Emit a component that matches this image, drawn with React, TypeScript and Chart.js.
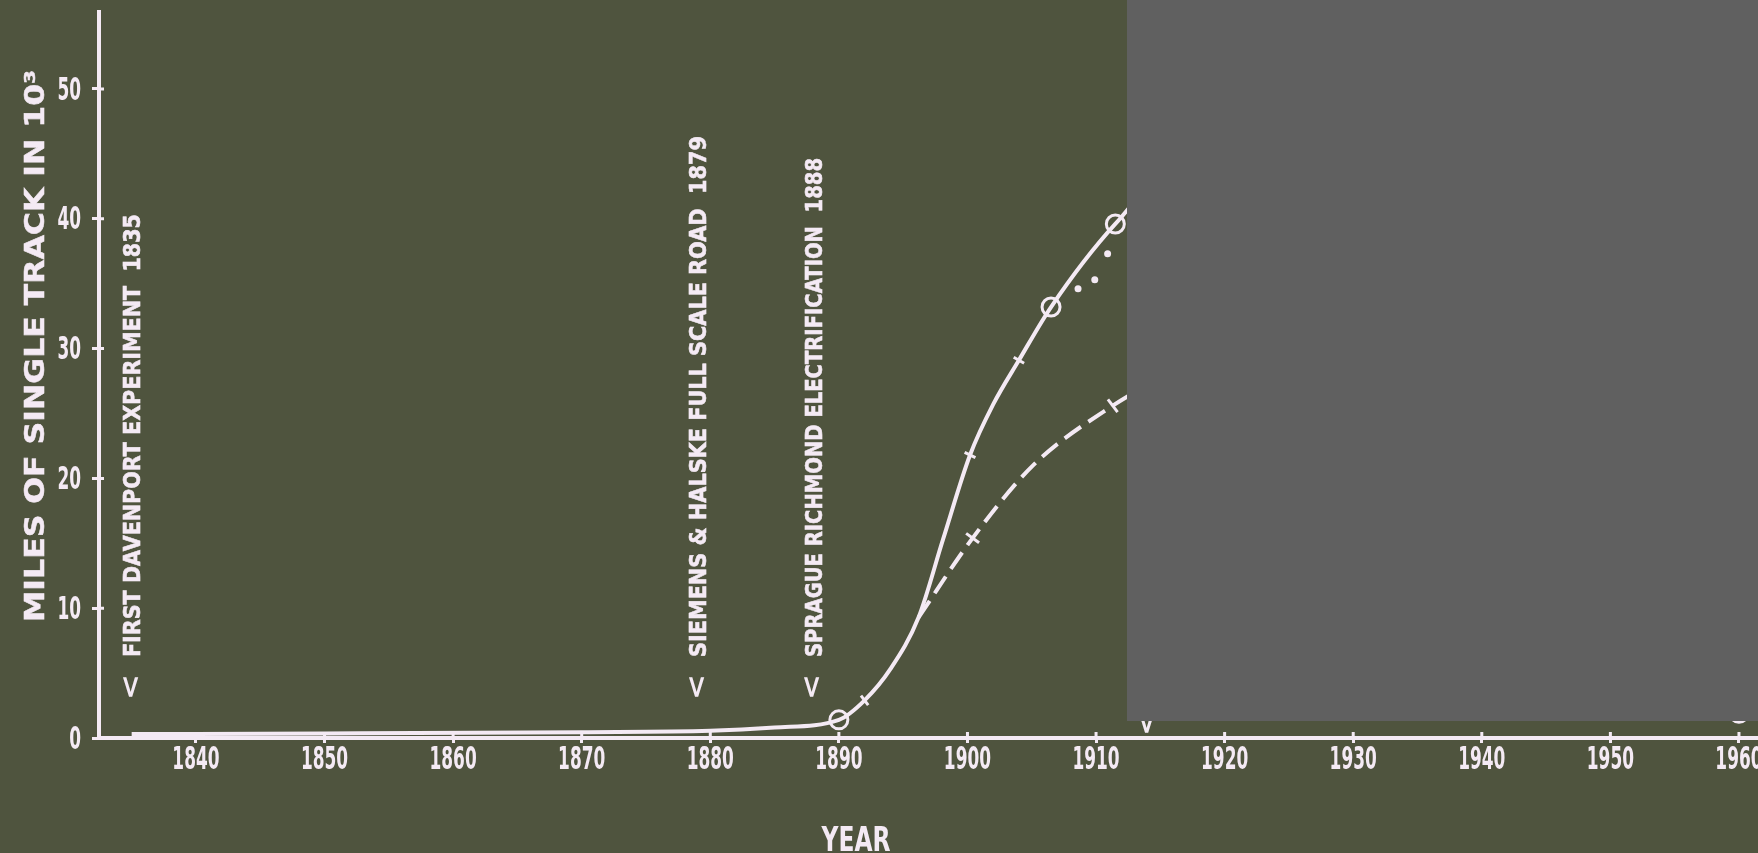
import React, { useEffect, useRef } from "react";
import { Chart, registerables } from "chart.js";

Chart.register(...registerables);

// ---------- data ----------
const solidYears = [1835, 1850, 1870, 1880, 1885, 1890, 1892, 1894, 1896.2, 1898.1, 1900.2, 1902, 1904, 1906.5, 1911.5, 1917, 1960];
const solidValues = [0.3, 0.35, 0.45, 0.55, 0.8, 1.4, 2.9, 5.3, 9.3, 15.3, 21.8, 25.7, 29.1, 33.2, 39.6, 44.5, 1.9];
const solidMarkers = ["none", "none", "none", "none", "none", "circle", "tick", "none", "none", "none", "tick", "none", "tick", "circle", "circle", "none", "circle"];

const dashedYears = [1896.2, 1900.4, 1905.1, 1911.3, 1917];
const dashedValues = [9.3, 15.4, 21.0, 25.6, 28.8];
const dashedMarkers = ["none", "tick", "none", "tick", "none"];

const dottedYears = [1908.6, 1909.9, 1910.9];
const dottedValues = [34.6, 35.3, 37.3];

const yTickValues = [0, 10, 20, 30, 40, 50];
const xTickValues = [1840, 1850, 1860, 1870, 1880, 1890, 1900, 1910, 1920, 1930, 1940, 1950, 1960];

const eventYears = [1835, 1879, 1888, 1914];
const eventMarker = "<";
const eventLabels = [
  "FIRST DAVENPORT EXPERIMENT  1835",
  "SIEMENS & HALSKE FULL SCALE ROAD  1879",
  "SPRAGUE RICHMOND ELECTRIFICATION  1888",
  "",
];

const yTitle = "MILES OF SINGLE TRACK IN 10³";
const xTitle = "YEAR";

// ---------- layout / style ----------
const W = 1758;
const H = 853;
const X_MIN = 1832.46;
const X_MAX = 1961.48;
const Y_MIN = 0;
const Y_MAX = 55.93;
const FONT = "'DejaVu Sans', 'Liberation Sans', sans-serif";
const INK = "#f4eaf4";
const BG = "#4f543e";
const COVER = "#606060";
const COVER_RECT = { left: 1127, top: 0, right: 1758, bottom: 721 };
const eventTextBottom = [657, 657, 657, 0];
const eventTextLength = [443, 521, 499, 0];
const eventMarkerBottom = [698, 698, 698, 734];
const solidTickRot = [0, 0, 0, 0, 0, 0, 53, 0, 0, 0, 26, 0, 30, 0, 0, 0, 0];
const dashedTickRot = [0, 36, 0, 53, 0];
const LABEL_SQUEEZE = 0.53;

function markerStyle(m: string) {
  return m === "circle" ? "circle" : "line";
}
function markerRadius(m: string, tickR: number) {
  if (m === "circle") return 9;
  if (m === "tick") return tickR;
  return 0;
}

// draws text rotated -90deg; caps centered on cx; starting at `bottom` going up
function drawVText(ctx: CanvasRenderingContext2D, text: string, cx: number, bottom: number, length: number, size: number, stroke = 0) {
  if (!text) return;
  ctx.save();
  ctx.font = `bold ${size}px ${FONT}`;
  const w = ctx.measureText(text).width;
  const capH = size * 0.73;
  ctx.translate(cx, bottom);
  ctx.rotate(-Math.PI / 2);
  if (length > 0) ctx.scale(length / w, 1);
  ctx.textAlign = "left";
  ctx.textBaseline = "alphabetic";
  ctx.fillStyle = INK;
  ctx.fillText(text, 0, capH / 2);
  if (stroke > 0) {
    ctx.strokeStyle = INK;
    ctx.lineWidth = stroke;
    ctx.strokeText(text, 0, capH / 2);
  }
  ctx.restore();
}

// horizontal squeezed text; caps centred at (x, cy)
function drawHText(ctx: CanvasRenderingContext2D, text: string, x: number, cy: number, size: number, squeeze: number, align: "center" | "right") {
  ctx.save();
  ctx.font = `bold ${size}px ${FONT}`;
  const capH = size * 0.73;
  ctx.translate(x, cy + capH / 2);
  ctx.scale(squeeze, 1);
  ctx.textAlign = align;
  ctx.textBaseline = "alphabetic";
  ctx.fillStyle = INK;
  ctx.fillText(text, 0, 0);
  ctx.restore();
}

const overlay = {
  id: "overlay",
  beforeDraw(chart: any) {
    const ctx = chart.ctx as CanvasRenderingContext2D;
    ctx.save();
    ctx.fillStyle = BG;
    ctx.fillRect(0, 0, chart.width, chart.height);
    ctx.restore();
  },
  afterDatasetsDraw(chart: any) {
    const ctx = chart.ctx as CanvasRenderingContext2D;
    const xs = chart.scales.x;
    const ys = chart.scales.y;
    const area = chart.chartArea;
    // inner halves of the crossing tick marks
    ctx.save();
    ctx.strokeStyle = INK;
    ctx.lineWidth = 3;
    ctx.beginPath();
    xTickValues.forEach((v) => {
      const px = xs.getPixelForValue(v);
      ctx.moveTo(px, area.bottom);
      ctx.lineTo(px, area.bottom - 6);
    });
    yTickValues.forEach((v) => {
      const py = ys.getPixelForValue(v);
      ctx.moveTo(area.left, py);
      ctx.lineTo(area.left + 5, py);
    });
    ctx.stroke();
    ctx.restore();
    // tick labels
    xTickValues.forEach((v) => {
      drawHText(ctx, String(v), xs.getPixelForValue(v), 757, 32, LABEL_SQUEEZE, "center");
    });
    yTickValues.forEach((v) => {
      drawHText(ctx, String(v), 81, ys.getPixelForValue(v) - 1, 32, LABEL_SQUEEZE, "right");
    });
    // event annotations
    eventYears.forEach((yr, i) => {
      const px = xs.getPixelForValue(yr);
      ctx.save();
      ctx.font = `bold 31px ${FONT}`;
      ctx.translate(px, eventMarkerBottom[i]);
      ctx.rotate(-Math.PI / 2);
      ctx.scale(1.0, 0.88);
      ctx.textAlign = "left";
      ctx.textBaseline = "middle";
      ctx.fillStyle = INK;
      ctx.fillText(eventMarker, -2, 0);
      ctx.restore();
      drawVText(ctx, eventLabels[i], px, eventTextBottom[i], eventTextLength[i], 23, 0.6);
    });
    // axis titles
    drawVText(ctx, yTitle, 34, 622, 552, 27, 0.5);
    ctx.save();
    ctx.font = `bold 34px ${FONT}`;
    const yw = ctx.measureText(xTitle).width;
    ctx.restore();
    drawHText(ctx, xTitle, 856, 839, 34, 69 / yw, "center");
  },
  afterDraw(chart: any) {
    const ctx = chart.ctx as CanvasRenderingContext2D;
    ctx.save();
    ctx.fillStyle = COVER;
    ctx.fillRect(COVER_RECT.left, COVER_RECT.top, COVER_RECT.right - COVER_RECT.left, COVER_RECT.bottom - COVER_RECT.top);
    ctx.restore();
  },
};

export default function App() {
  const ref = useRef<HTMLCanvasElement>(null);

  useEffect(() => {
    const canvas = ref.current;
    if (!canvas) return;
    const chart = new Chart(canvas, {
      type: "line",
      data: {
        datasets: [
          {
            label: "solid",
            data: solidYears.map((x, i) => ({ x, y: solidValues[i] })),
            borderColor: INK,
            borderWidth: 4,
            cubicInterpolationMode: "monotone",
            pointStyle: solidMarkers.map(markerStyle) as any,
            pointRadius: solidMarkers.map((m) => markerRadius(m, 6)),
            pointRotation: solidTickRot,
            pointBorderColor: INK,
            pointBorderWidth: 3,
            pointBackgroundColor: "rgba(0,0,0,0)",
            fill: false,
          },
          {
            label: "dashed",
            data: dashedYears.map((x, i) => ({ x, y: dashedValues[i] })),
            borderColor: INK,
            borderWidth: 4,
            borderDash: [20, 9],
            cubicInterpolationMode: "monotone",
            pointStyle: dashedMarkers.map(markerStyle) as any,
            pointRadius: dashedMarkers.map((m) => markerRadius(m, 8)),
            pointRotation: dashedTickRot,
            pointBorderColor: INK,
            pointBorderWidth: 3,
            pointBackgroundColor: "rgba(0,0,0,0)",
            fill: false,
          },
          {
            label: "dotted",
            data: dottedYears.map((x, i) => ({ x, y: dottedValues[i] })),
            showLine: false,
            pointStyle: "circle",
            pointRadius: 3.5,
            pointBorderWidth: 0,
            pointBackgroundColor: INK,
            pointBorderColor: INK,
          },
        ],
      },
      options: {
        responsive: false,
        animation: false,
        events: [],
        layout: { autoPadding: false, padding: { top: 12, left: 0, right: 0, bottom: 0 } },
        plugins: { legend: { display: false }, tooltip: { enabled: false }, title: { display: false } },
        scales: {
          x: {
            type: "linear",
            min: X_MIN,
            max: X_MAX,
            afterFit: (s: any) => {
              s.height = H - 738;
            },
            afterBuildTicks: (s: any) => {
              s.ticks = xTickValues.map((v) => ({ value: v }));
            },
            border: { display: true, color: INK, width: 4 },
            grid: { display: true, drawOnChartArea: false, drawTicks: true, tickLength: 5, color: INK, lineWidth: 3 },
            ticks: { display: false },
          },
          y: {
            type: "linear",
            min: Y_MIN,
            max: Y_MAX,
            afterFit: (s: any) => {
              s.width = 99;
            },
            afterBuildTicks: (s: any) => {
              s.ticks = yTickValues.map((v) => ({ value: v }));
            },
            border: { display: true, color: INK, width: 4 },
            grid: { display: true, drawOnChartArea: false, drawTicks: true, tickLength: 7, color: INK, lineWidth: 3 },
            ticks: { display: false },
          },
        },
      } as any,
      plugins: [overlay],
    });
    return () => chart.destroy();
  }, []);

  return (
    <div style={{ position: "fixed", left: 0, top: 0, width: W, height: H, background: BG, overflow: "hidden" }}>
      <canvas ref={ref} width={W} height={H} style={{ display: "block", width: W, height: H }} />
    </div>
  );
}
